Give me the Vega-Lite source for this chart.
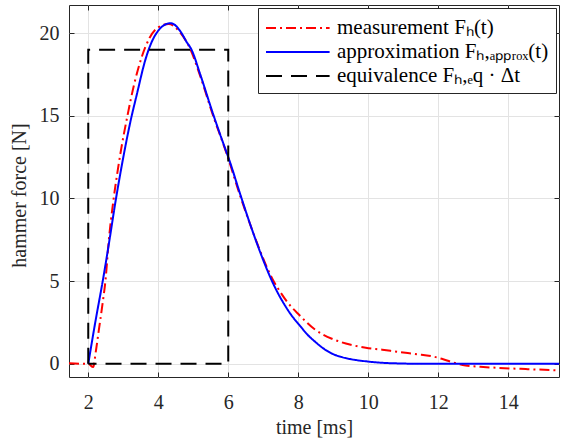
{
  "$schema": "https://vega.github.io/schema/vega-lite/v6.json",
  "width": 490,
  "height": 372,
  "autosize": "none",
  "padding": {"left": 69, "top": 5, "right": 2, "bottom": 63},
  "background": "white",
  "config": {
    "font": "Liberation Serif",
    "view": {"stroke": "#262626", "strokeWidth": 1},
    "axis": {
      "labelFont": "Liberation Serif", "labelFontSize": 20, "labelColor": "#262626",
      "titleFont": "Liberation Serif", "titleFontSize": 20, "titleFontWeight": "normal", "titleColor": "#262626",
      "gridColor": "#e3e3e3", "gridWidth": 1, "domain": false,
      "tickColor": "#262626", "tickSize": -5, "tickWidth": 1
    },
    "legend": {
      "orient": "top-right", "offset": 3, "title": null,
      "strokeColor": "#262626", "fillColor": "white", "padding": 7,
      "labelFont": "Liberation Serif", "labelFontSize": 21, "labelColor": "black", "labelLimit": 500,
      "symbolType": "M-1,0H4.3", "symbolSize": 576, "symbolStrokeWidth": 2,
      "labelOffset": 46, "rowPadding": 1
    }
  },
  "datasets": {
    "curves": [
      {"series": "measurement", "t": 1.45, "F": 0.03},
      {"series": "measurement", "t": 1.8, "F": 0.0},
      {"series": "measurement", "t": 2.0, "F": 0.0},
      {"series": "measurement", "t": 2.14, "F": -0.2},
      {"series": "measurement", "t": 2.22, "F": 0.8},
      {"series": "measurement", "t": 2.3, "F": 2.0},
      {"series": "measurement", "t": 2.4, "F": 3.5},
      {"series": "measurement", "t": 2.5, "F": 5.2},
      {"series": "measurement", "t": 2.58, "F": 7.3},
      {"series": "measurement", "t": 2.72, "F": 9.9},
      {"series": "measurement", "t": 2.85, "F": 11.8},
      {"series": "measurement", "t": 2.95, "F": 13.1},
      {"series": "measurement", "t": 3.12, "F": 15.0},
      {"series": "measurement", "t": 3.3, "F": 16.8},
      {"series": "measurement", "t": 3.52, "F": 18.5},
      {"series": "measurement", "t": 3.75, "F": 19.7},
      {"series": "measurement", "t": 4.0, "F": 20.35},
      {"series": "measurement", "t": 4.3, "F": 20.55},
      {"series": "measurement", "t": 4.6, "F": 20.1},
      {"series": "measurement", "t": 4.9, "F": 19.1},
      {"series": "measurement", "t": 5.2, "F": 17.4},
      {"series": "measurement", "t": 5.56, "F": 15.05},
      {"series": "measurement", "t": 5.94, "F": 12.8},
      {"series": "measurement", "t": 6.35, "F": 10.1},
      {"series": "measurement", "t": 6.86, "F": 7.1},
      {"series": "measurement", "t": 7.05, "F": 6.1},
      {"series": "measurement", "t": 7.27, "F": 5.1},
      {"series": "measurement", "t": 7.5, "F": 4.3},
      {"series": "measurement", "t": 7.7, "F": 3.7},
      {"series": "measurement", "t": 8.03, "F": 2.95},
      {"series": "measurement", "t": 8.46, "F": 2.1},
      {"series": "measurement", "t": 8.98, "F": 1.5},
      {"series": "measurement", "t": 9.5, "F": 1.15},
      {"series": "measurement", "t": 9.93, "F": 0.97},
      {"series": "measurement", "t": 10.4, "F": 0.85},
      {"series": "measurement", "t": 10.88, "F": 0.71},
      {"series": "measurement", "t": 11.4, "F": 0.58},
      {"series": "measurement", "t": 11.83, "F": 0.45},
      {"series": "measurement", "t": 12.1, "F": 0.3},
      {"series": "measurement", "t": 12.4, "F": 0.1},
      {"series": "measurement", "t": 12.78, "F": -0.1},
      {"series": "measurement", "t": 13.2, "F": -0.18},
      {"series": "measurement", "t": 13.73, "F": -0.25},
      {"series": "measurement", "t": 14.5, "F": -0.32},
      {"series": "measurement", "t": 15.45, "F": -0.4},
      {"series": "approximation", "t": 2.0, "F": 0.0},
      {"series": "approximation", "t": 2.2, "F": 2.5},
      {"series": "approximation", "t": 2.43, "F": 5.2},
      {"series": "approximation", "t": 2.6, "F": 7.4},
      {"series": "approximation", "t": 2.77, "F": 9.7},
      {"series": "approximation", "t": 2.95, "F": 11.9},
      {"series": "approximation", "t": 3.2, "F": 14.6},
      {"series": "approximation", "t": 3.4, "F": 16.4},
      {"series": "approximation", "t": 3.62, "F": 18.3},
      {"series": "approximation", "t": 3.8, "F": 19.4},
      {"series": "approximation", "t": 4.0, "F": 20.15},
      {"series": "approximation", "t": 4.2, "F": 20.52},
      {"series": "approximation", "t": 4.35, "F": 20.6},
      {"series": "approximation", "t": 4.5, "F": 20.45},
      {"series": "approximation", "t": 4.65, "F": 20.05},
      {"series": "approximation", "t": 4.8, "F": 19.5},
      {"series": "approximation", "t": 4.95, "F": 19.0},
      {"series": "approximation", "t": 5.2, "F": 17.5},
      {"series": "approximation", "t": 5.56, "F": 15.15},
      {"series": "approximation", "t": 5.94, "F": 12.85},
      {"series": "approximation", "t": 6.0, "F": 12.5},
      {"series": "approximation", "t": 6.35, "F": 10.2},
      {"series": "approximation", "t": 6.6, "F": 8.6},
      {"series": "approximation", "t": 6.86, "F": 7.05},
      {"series": "approximation", "t": 7.05, "F": 6.0},
      {"series": "approximation", "t": 7.24, "F": 5.05},
      {"series": "approximation", "t": 7.4, "F": 4.35},
      {"series": "approximation", "t": 7.6, "F": 3.6},
      {"series": "approximation", "t": 7.8, "F": 2.95},
      {"series": "approximation", "t": 8.03, "F": 2.35},
      {"series": "approximation", "t": 8.27, "F": 1.75},
      {"series": "approximation", "t": 8.5, "F": 1.3},
      {"series": "approximation", "t": 8.75, "F": 0.88},
      {"series": "approximation", "t": 8.98, "F": 0.6},
      {"series": "approximation", "t": 9.25, "F": 0.4},
      {"series": "approximation", "t": 9.5, "F": 0.28},
      {"series": "approximation", "t": 9.93, "F": 0.15},
      {"series": "approximation", "t": 10.4, "F": 0.06},
      {"series": "approximation", "t": 10.88, "F": 0.02},
      {"series": "approximation", "t": 11.5, "F": 0.0},
      {"series": "approximation", "t": 15.45, "F": 0.0}
    ],
    "rect": [
      {"series": "equivalence", "t": 2, "F": 0, "o": 1},
      {"series": "equivalence", "t": 2, "F": 19, "o": 2},
      {"series": "equivalence", "t": 6, "F": 19, "o": 3},
      {"series": "equivalence", "t": 6, "F": 0, "o": 4},
      {"series": "equivalence", "t": 2, "F": 0, "o": 5}
    ]
  },
  "layer": [
    {
      "data": {"name": "curves"},
      "mark": {"type": "line", "strokeWidth": 2, "clip": true, "interpolate": "monotone"},
      "encoding": {
        "x": {"field": "t", "type": "quantitative", "scale": {"domain": [1.45, 15.45], "nice": false, "zero": false},
              "axis": {"title": "time [ms]", "values": [2, 4, 6, 8, 10, 12, 14], "titlePadding": 5, "labelPadding": 20}},
        "y": {"field": "F", "type": "quantitative", "scale": {"domain": [-0.8, 21.7], "nice": false, "zero": false},
              "axis": {"title": "hammer force [N]", "values": [0, 5, 10, 15, 20], "titleX": -40, "titleY": 190, "labelPadding": 15}},
        "color": {"field": "series", "type": "nominal",
                  "scale": {"domain": ["measurement", "approximation", "equivalence"], "range": ["#ff0000", "#0000ff", "#000000"]},
                  "legend": {"labelExpr": "datum.value == 'measurement' ? 'measurement Fₕ(t)' : datum.value == 'approximation' ? 'approximation Fₕ,ₐₚₚᵣₒₓ(t)' : 'equivalence Fₕ,ₑq · Δt'"}},
        "strokeDash": {"field": "series", "type": "nominal",
                  "scale": {"domain": ["measurement", "approximation", "equivalence"], "range": [[10, 4, 2, 4], [1, 0], [16, 9]]},
                  "legend": {"labelExpr": "datum.value == 'measurement' ? 'measurement Fₕ(t)' : datum.value == 'approximation' ? 'approximation Fₕ,ₐₚₚᵣₒₓ(t)' : 'equivalence Fₕ,ₑq · Δt'"}}
      }
    },
    {
      "data": {"name": "rect"},
      "mark": {"type": "line", "strokeWidth": 2, "clip": true},
      "encoding": {
        "x": {"field": "t", "type": "quantitative", "axis": {"orient": "top", "labels": false, "grid": false, "title": null, "values": [2, 4, 6, 8, 10, 12, 14]}},
        "y": {"field": "F", "type": "quantitative", "axis": {"orient": "right", "labels": false, "grid": false, "title": null, "values": [0, 5, 10, 15, 20]}},
        "color": {"field": "series", "type": "nominal"},
        "strokeDash": {"field": "series", "type": "nominal"},
        "order": {"field": "o", "type": "quantitative"}
      }
    }
  ],
  "resolve": {"axis": {"x": "independent", "y": "independent"}}
}
